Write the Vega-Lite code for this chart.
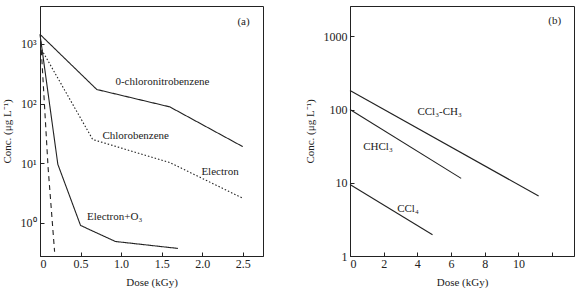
{
  "$schema": "https://vega.github.io/schema/vega-lite/v6.json",
  "padding": {"left": 0, "top": 5, "right": 0, "bottom": 0},
  "background": "white",
  "config": {
    "font": "Liberation Serif",
    "view": {"stroke": "#222", "strokeWidth": 1},
    "axis": {
      "grid": false,
      "domainColor": "#222",
      "tickColor": "#222",
      "tickSize": -4,
      "labelColor": "#222",
      "titleColor": "#222",
      "labelFont": "Liberation Serif",
      "titleFont": "Liberation Serif",
      "labelFontSize": 12,
      "titleFontSize": 11,
      "titleFontWeight": "normal"
    }
  },
  "datasets": {
    "linesA": [
      {"series": "o-chloronitrobenzene", "style": "solid", "dose": 0, "conc": 1440},
      {"series": "o-chloronitrobenzene", "style": "solid", "dose": 0.7, "conc": 172},
      {"series": "o-chloronitrobenzene", "style": "solid", "dose": 1.6, "conc": 88},
      {"series": "o-chloronitrobenzene", "style": "solid", "dose": 2.5, "conc": 19},
      {"series": "Chlorobenzene", "style": "dotted", "dose": 0.02, "conc": 800},
      {"series": "Chlorobenzene", "style": "dotted", "dose": 0.65, "conc": 25},
      {"series": "Chlorobenzene", "style": "dotted", "dose": 1.6, "conc": 10.3},
      {"series": "Chlorobenzene", "style": "dotted", "dose": 2.5, "conc": 2.6},
      {"series": "Electron+O3", "style": "solid", "dose": 0, "conc": 1440},
      {"series": "Electron+O3", "style": "solid", "dose": 0.22, "conc": 9.6},
      {"series": "Electron+O3", "style": "solid", "dose": 0.5, "conc": 0.91},
      {"series": "Electron+O3", "style": "solid", "dose": 0.93, "conc": 0.49},
      {"series": "Electron+O3", "style": "solid", "dose": 1.7, "conc": 0.375},
      {"series": "Dashed", "style": "dashed", "dose": 0.01, "conc": 1100},
      {"series": "Dashed", "style": "dashed", "dose": 0.1, "conc": 8.4},
      {"series": "Dashed", "style": "dashed", "dose": 0.18, "conc": 0.33}
    ],
    "textA": [
      {"label": "0-chloronitrobenzene", "dose": 1.51, "conc": 229},
      {"label": "Chlorobenzene", "dose": 1.18, "conc": 28.5},
      {"label": "Electron", "dose": 2.22, "conc": 7.1},
      {"label": "Electron+O₃", "dose": 0.92, "conc": 1.26},
      {"label": "(a)", "dose": 2.51, "conc": 2340}
    ],
    "linesB": [
      {"series": "CCl3-CH3", "dose": 0, "conc": 182},
      {"series": "CCl3-CH3", "dose": 11.2, "conc": 6.6},
      {"series": "CHCl3", "dose": 0, "conc": 100},
      {"series": "CHCl3", "dose": 6.6, "conc": 11.5},
      {"series": "CCl4", "dose": 0, "conc": 9.5},
      {"series": "CCl4", "dose": 4.9, "conc": 1.95}
    ],
    "textB": [
      {"label": "CCl₃-CH₃", "dose": 5.32, "conc": 92.7},
      {"label": "CHCl₃", "dose": 1.66, "conc": 30.8},
      {"label": "CCl₄", "dose": 3.44, "conc": 4.4},
      {"label": "(b)", "dose": 12.15, "conc": 1623}
    ]
  },
  "spacing": 87,
  "bounds": "flush",
  "hconcat": [
    {
      "width": 223,
      "height": 250,
      "encoding": {
        "x": {
          "field": "dose", "type": "quantitative",
          "scale": {"domain": [0, 2.75], "nice": false},
          "axis": {"title": "Dose (kGy)", "values": [0, 0.5, 1, 1.5, 2, 2.5],
                   "labelExpr": "datum.value == 0 ? '0' : format(datum.value, '.1f')",
                   "labelPadding": 6, "titlePadding": 7}
        },
        "y": {
          "field": "conc", "type": "quantitative",
          "scale": {"type": "log", "domain": [0.28, 4300], "nice": false},
          "axis": {"title": "Conc. (μg L⁻¹)", "values": [1, 10, 100, 1000],
                   "labelExpr": "datum.value == 1 ? '10⁰' : datum.value == 10 ? '10¹' : datum.value == 100 ? '10²' : '10³'",
                   "labelPadding": 8, "titlePadding": 8}
        }
      },
      "layer": [
        {
          "data": {"name": "linesA"},
          "mark": {"type": "line", "color": "#222", "strokeWidth": 1.1},
          "encoding": {
            "detail": {"field": "series"},
            "strokeDash": {
              "field": "style", "type": "nominal",
              "scale": {"domain": ["solid", "dotted", "dashed"], "range": [[1, 0], [1.5, 2], [5, 4]]},
              "legend": null
            }
          }
        },
        {
          "data": {"name": "textA"},
          "mark": {"type": "text", "color": "#222", "fontSize": 11, "align": "center", "baseline": "middle", "font": "Liberation Serif"},
          "encoding": {"text": {"field": "label"}}
        }
      ]
    },
    {
      "width": 224,
      "height": 250,
      "encoding": {
        "x": {
          "field": "dose", "type": "quantitative",
          "scale": {"domain": [0, 13.3], "nice": false},
          "axis": {"title": "Dose (kGy)", "values": [0, 2, 4, 6, 8, 10, 12],
                   "labelExpr": "datum.value == 12 ? '' : datum.label",
                   "labelPadding": 6, "titlePadding": 7}
        },
        "y": {
          "field": "conc", "type": "quantitative",
          "scale": {"type": "log", "domain": [1, 2600], "nice": false},
          "axis": {"title": "Conc. (μg L⁻¹)", "values": [1, 10, 100, 1000],
                   "labelExpr": "format(datum.value, 'd')",
                   "labelPadding": 7, "titlePadding": 8}
        }
      },
      "layer": [
        {
          "data": {"name": "linesB"},
          "mark": {"type": "line", "color": "#222", "strokeWidth": 1.1},
          "encoding": {"detail": {"field": "series"}}
        },
        {
          "data": {"name": "textB"},
          "mark": {"type": "text", "color": "#222", "fontSize": 11, "align": "center", "baseline": "middle", "font": "Liberation Serif"},
          "encoding": {"text": {"field": "label"}}
        }
      ]
    }
  ]
}
